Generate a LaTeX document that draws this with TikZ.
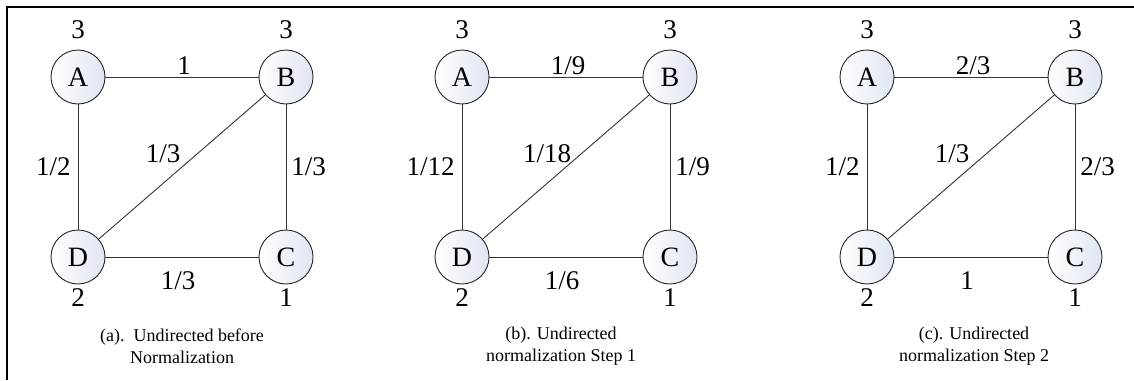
\documentclass[tikz,border=0pt]{standalone}
\usepackage{fontspec}
\setmainfont{Liberation Serif}
\usetikzlibrary{calc}
\definecolor{nodeblue}{RGB}{224,229,243}
\tikzset{
  vert/.style={circle, draw=black!85, line width=0.9pt, minimum size=54pt, inner sep=0pt,
    left color=white, right color=nodeblue, font=\fontsize{28}{31}\selectfont},
  lbl/.style={inner sep=0pt, font=\fontsize{27}{30}\selectfont},
  edgeline/.style={draw=black!80, line width=0.9pt},
  captext/.style={inner sep=0pt, align=center, font=\fontsize{18}{22}\selectfont},
  frameline/.style={line width=2pt, black}
}
\newcommand\drawpanel[9]{%
  \node[vert] (#1A) at (#2,77) {A};
  \node[vert] (#1B) at (#2+208,77) {B};
  \node[vert] (#1C) at (#2+208,257) {C};
  \node[vert] (#1D) at (#2,257) {D};
  \node[lbl] (#1dA) at ($(#1A)+(0,-47)$) {3};
  \node[lbl] (#1dB) at ($(#1B)+(0,-47)$) {3};
  \node[lbl] (#1dC) at ($(#1C)+(0,41)$) {1};
  \node[lbl] (#1dD) at ($(#1D)+(0,41)$) {2};
  \draw[edgeline] (#1A) -- node[lbl, midway, xshift=2pt, yshift=11pt] (#1lab) {#3} (#1B);
  \draw[edgeline] (#1A) -- node[lbl, midway, left=7pt] (#1lad) {#4} (#1D);
  \draw[edgeline] (#1D) -- node[lbl, midway, xshift=-19pt, yshift=13pt] (#1ldb) {#5} (#1B);
  \draw[edgeline] (#1B) -- node[lbl, midway, right=5pt] (#1lbc) {#6} (#1C);
  \draw[edgeline] (#1D) -- node[lbl, midway, xshift=-4pt, yshift=-24pt] (#1ldc) {#7} (#1C);
  \node[captext] (#1cap) at (#2+#9,346) {#8};
}
\begin{document}
\begin{tikzpicture}[x=1pt, y=-1pt]
  \useasboundingbox (0,0) rectangle (1134,380);
  \draw[frameline] (7,380) -- (7,7) -- (1134,7);
  \drawpanel{p}{78}{1}{1/2}{1/3}{1/3}{1/3}{(a).\ \ Undirected before\\Normalization}{104}
  \drawpanel{q}{462}{1/9}{1/12}{1/18}{1/9}{1/6}{(b). Undirected\\normalization Step 1}{99}
  \drawpanel{r}{867}{2/3}{1/2}{1/3}{2/3}{1}{(c). Undirected\\normalization Step 2}{107}
\end{tikzpicture}
\end{document}
